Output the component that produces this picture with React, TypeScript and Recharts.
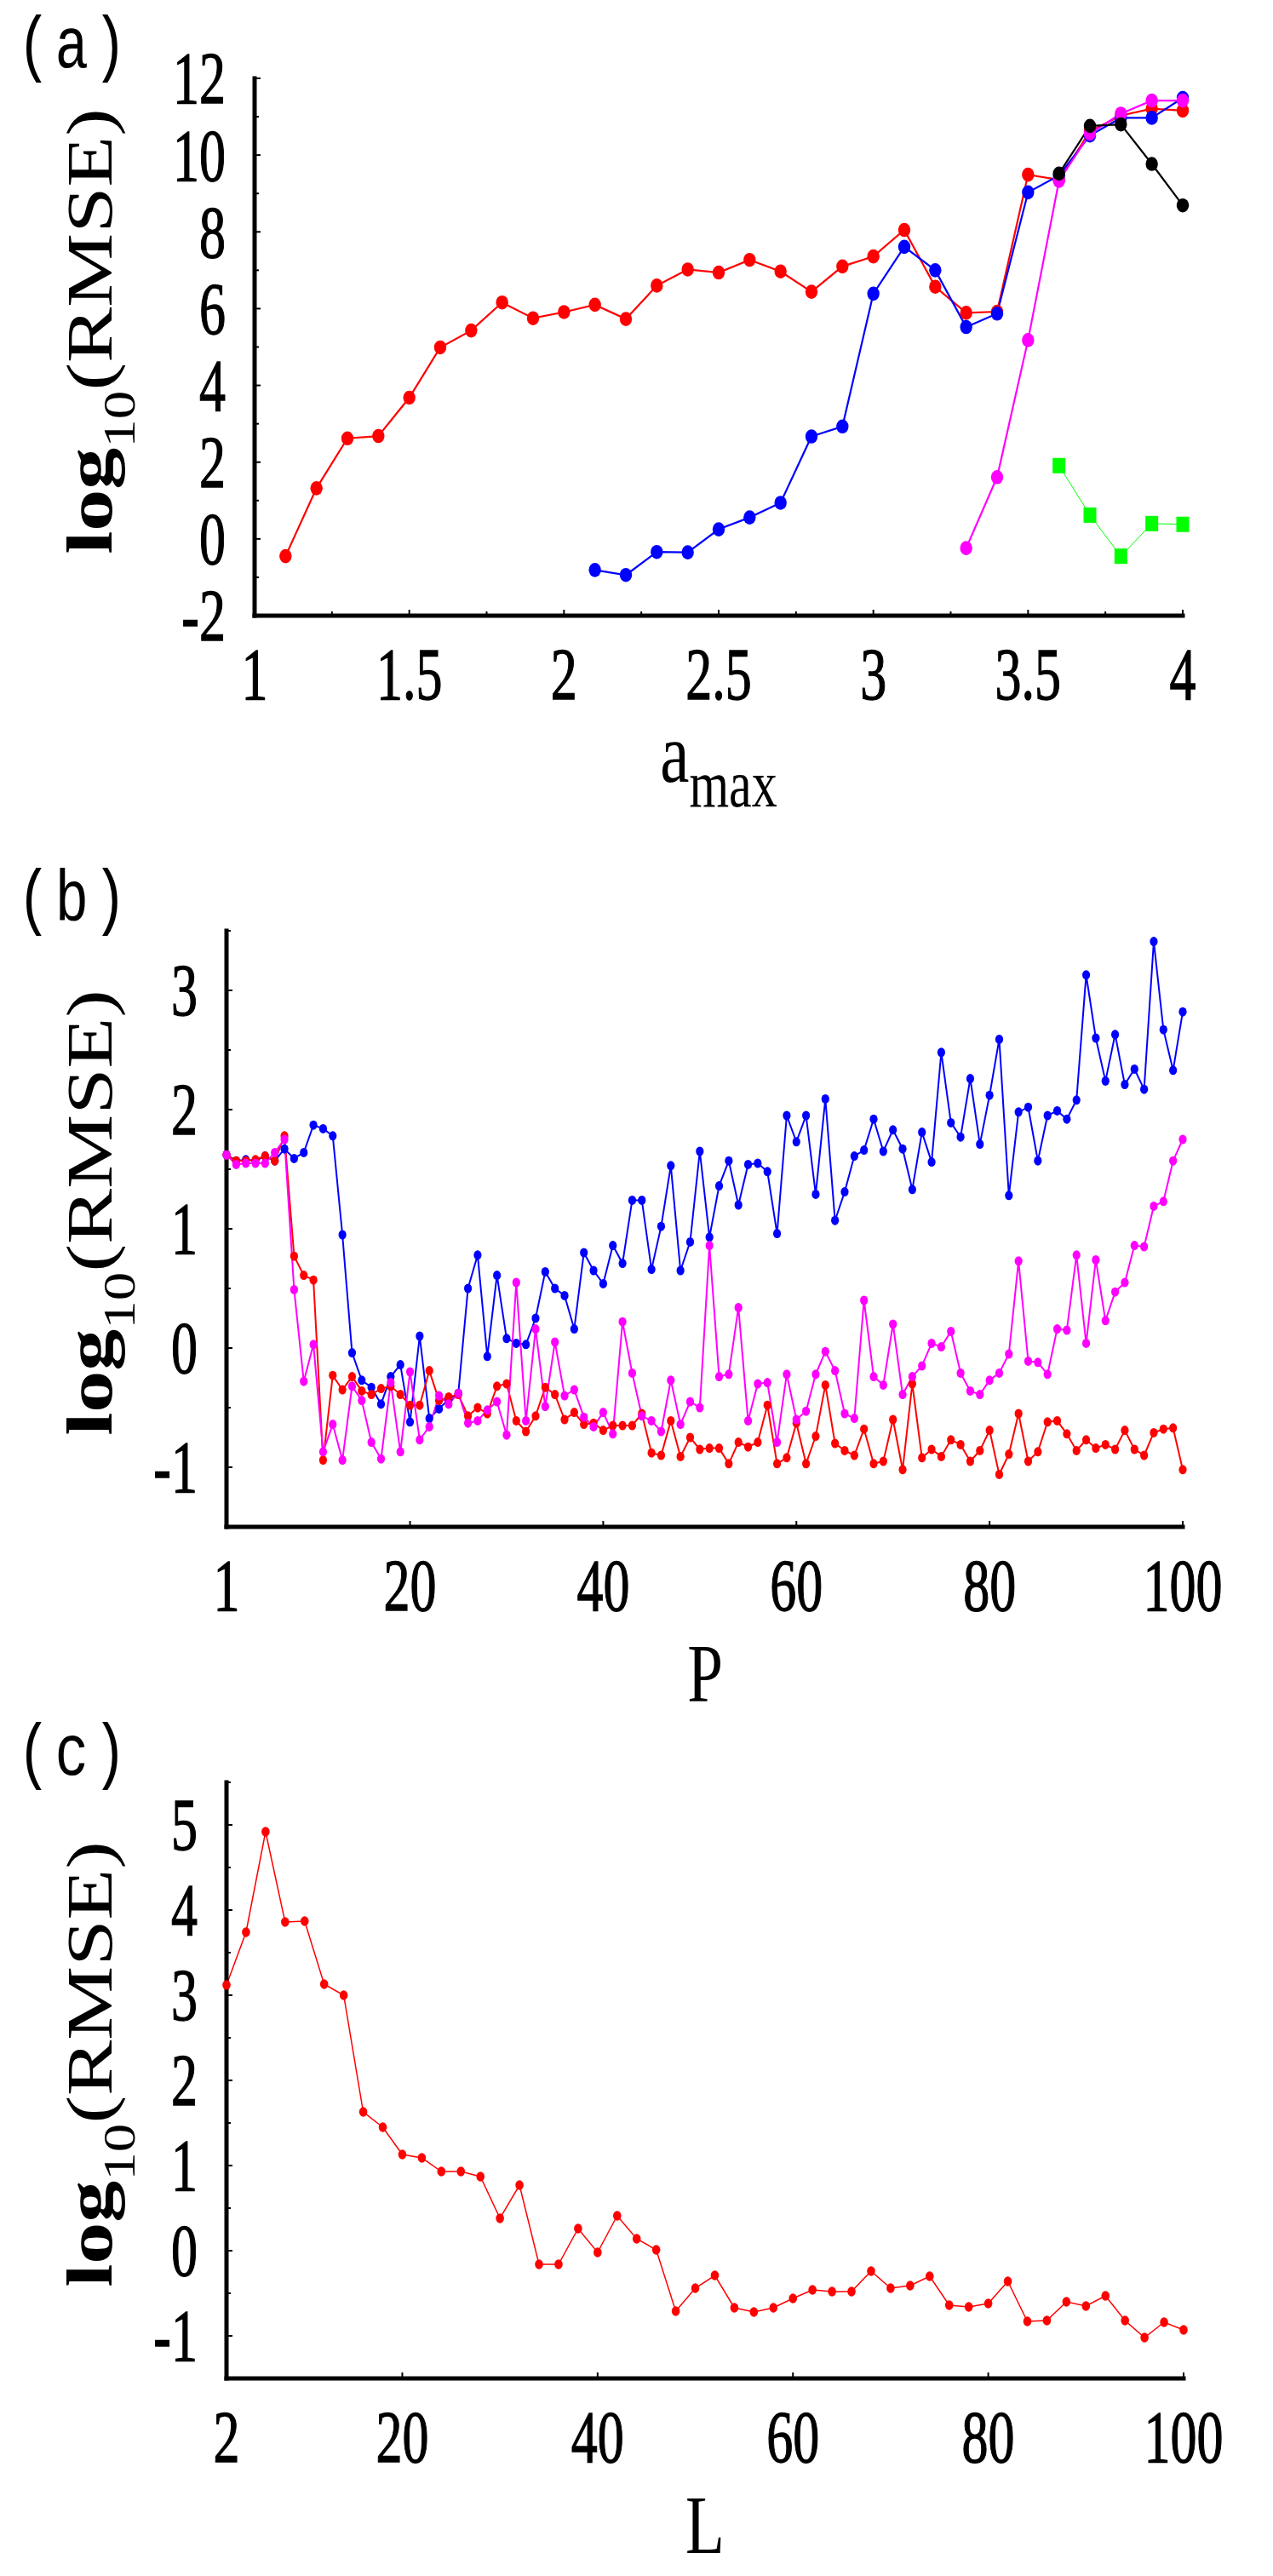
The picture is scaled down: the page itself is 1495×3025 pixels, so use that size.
import { LineChart, Line, XAxis, YAxis } from "recharts";

const SERIF = "'Liberation Serif', 'Times New Roman', serif";
const MONO = "'Liberation Mono', 'Courier New', monospace";
// lettering in the figure is tall and narrow, so text is stretched vertically
const STRETCH = 1.4;

// ---- (a) log10(RMSE) vs a_max ----
const aMax = [
	1.1, 1.2, 1.3, 1.4, 1.5, 1.6, 1.7, 1.8, 1.9, 2.0, 2.1, 2.2, 2.3, 2.4, 2.5,
	2.6, 2.7, 2.8, 2.9, 3.0, 3.1, 3.2, 3.3, 3.4, 3.5, 3.6, 3.7, 3.8, 3.9, 4.0,
];
const redA = [
	-0.45, 1.32, 2.62, 2.68, 3.68, 4.99, 5.43, 6.16, 5.75, 5.91, 6.1, 5.73, 6.6,
	7.02, 6.94, 7.27, 6.97, 6.44, 7.1, 7.36, 8.05, 6.57, 5.89, 5.92, 9.49, 9.36,
	10.62, 11.03, 11.21, 11.16,
];
// the following series start later and all end at a_max = 4
const blueA = [
	-0.81, -0.94, -0.34, -0.35, 0.25, 0.56, 0.94, 2.67, 2.93, 6.39, 7.61, 7.0,
	5.52, 5.87, 9.03, 9.47, 10.51, 10.97, 10.97, 11.49,
];
const magentaA = [-0.24, 1.61, 5.18, 9.33, 10.56, 11.08, 11.42, 11.42];
const blackA = [9.52, 10.76, 10.8, 9.77, 8.69];
const greenA = [1.91, 0.62, -0.45, 0.4, 0.38];
const aXTicks = [1, 1.25, 1.5, 1.75, 2, 2.25, 2.5, 2.75, 3, 3.25, 3.5, 3.75, 4];
const aXLabels = [1, 1.5, 2, 2.5, 3, 3.5, 4];
const aYTicks = [-2, -1, 0, 1, 2, 3, 4, 5, 6, 7, 8, 9, 10, 11, 12];
const aYLabels = [-2, 0, 2, 4, 6, 8, 10, 12];

// ---- (b) log10(RMSE) vs P ----
const pValues = Array.from({ length: 100 }, (_, i) => i + 1);
const blueB = [
	1.62, 1.57, 1.58, 1.57, 1.61, 1.57, 1.67, 1.59, 1.64, 1.87, 1.84, 1.78, 0.95,
	-0.04, -0.27, -0.33, -0.47, -0.24, -0.14, -0.62, 0.1, -0.59, -0.51, -0.43,
	-0.38, 0.5, 0.78, -0.07, 0.61, 0.08, 0.04, 0.03, 0.25, 0.64, 0.5, 0.44, 0.16,
	0.8, 0.65, 0.54, 0.86, 0.71, 1.24, 1.24, 0.66, 1.02, 1.53, 0.65, 0.89, 1.65,
	0.93, 1.36, 1.57, 1.2, 1.54, 1.55, 1.48, 0.96, 1.95, 1.73, 1.95, 1.29, 2.09,
	1.07, 1.31, 1.61, 1.66, 1.92, 1.65, 1.83, 1.67, 1.33, 1.81, 1.56, 2.48, 1.89,
	1.77, 2.26, 1.71, 2.12, 2.59, 1.28, 1.98, 2.02, 1.57, 1.95, 1.99, 1.92, 2.08,
	3.13, 2.6, 2.24, 2.63, 2.21, 2.34, 2.17, 3.41, 2.67, 2.33, 2.82,
];
const redB = [
	1.62, 1.57, 1.57, 1.58, 1.61, 1.57, 1.78, 0.77, 0.61, 0.57, -0.94, -0.23,
	-0.35, -0.24, -0.36, -0.39, -0.34, -0.32, -0.39, -0.48, -0.48, -0.19, -0.44,
	-0.41, -0.39, -0.57, -0.5, -0.55, -0.32, -0.3, -0.61, -0.7, -0.57, -0.33,
	-0.39, -0.6, -0.54, -0.64, -0.63, -0.69, -0.65, -0.65, -0.65, -0.55, -0.88,
	-0.9, -0.61, -0.91, -0.75, -0.85, -0.84, -0.84, -0.97, -0.79, -0.83, -0.79,
	-0.48, -0.97, -0.92, -0.63, -0.97, -0.74, -0.31, -0.8, -0.86, -0.9, -0.68,
	-0.97, -0.95, -0.6, -1.02, -0.3, -0.92, -0.85, -0.91, -0.77, -0.81, -0.95,
	-0.86, -0.69, -1.06, -0.89, -0.55, -0.95, -0.87, -0.62, -0.61, -0.72, -0.86,
	-0.77, -0.84, -0.81, -0.85, -0.69, -0.85, -0.9, -0.71, -0.68, -0.67, -1.02,
];
const magentaB = [
	1.62, 1.54, 1.55, 1.55, 1.55, 1.64, 1.75, 0.49, -0.28, 0.03, -0.87, -0.64,
	-0.94, -0.32, -0.44, -0.79, -0.93, -0.29, -0.87, -0.2, -0.77, -0.66, -0.4,
	-0.47, -0.38, -0.63, -0.61, -0.52, -0.45, -0.73, 0.55, -0.61, 0.16, -0.49,
	0.05, -0.4, -0.35, -0.58, -0.66, -0.54, -0.72, 0.22, -0.21, -0.57, -0.61,
	-0.7, -0.27, -0.64, -0.45, -0.5, 0.86, -0.24, -0.22, 0.34, -0.61, -0.3, -0.29,
	-0.79, -0.22, -0.6, -0.53, -0.22, -0.03, -0.19, -0.55, -0.59, 0.4, -0.24,
	-0.31, 0.2, -0.39, -0.24, -0.15, 0.04, 0.01, 0.14, -0.21, -0.36, -0.39, -0.27,
	-0.21, -0.05, 0.73, -0.11, -0.12, -0.22, 0.16, 0.15, 0.78, 0.04, 0.74, 0.23,
	0.47, 0.55, 0.86, 0.85, 1.19, 1.23, 1.57, 1.75,
];
const pXTicks = [1, 20, 40, 60, 80, 100];
const bYTicks = [-1.5, -1, -0.5, 0, 0.5, 1, 1.5, 2, 2.5, 3, 3.5];
const bYLabels = [-1, 0, 1, 2, 3];

// ---- (c) log10(RMSE) vs L ----
const lValues = [
	2, 4, 6, 8, 10, 12, 14, 16, 18, 20, 22, 24, 26, 28, 30, 32, 34, 36, 38, 40,
	42, 44, 46, 48, 50, 52, 54, 56, 58, 60, 62, 64, 66, 68, 70, 72, 74, 76, 78,
	80, 82, 84, 86, 88, 90, 92, 94, 96, 98, 100,
];
const redC = [
	3.12, 3.74, 4.92, 3.86, 3.87, 3.13, 3.0, 1.63, 1.45, 1.13, 1.09, 0.93, 0.93,
	0.87, 0.38, 0.77, -0.16, -0.16, 0.26, -0.02, 0.41, 0.14, 0.01, -0.71, -0.44,
	-0.29, -0.67, -0.72, -0.67, -0.56, -0.46, -0.48, -0.48, -0.24, -0.44, -0.41,
	-0.3, -0.64, -0.66, -0.62, -0.36, -0.83, -0.82, -0.6, -0.65, -0.53, -0.82,
	-1.02, -0.84, -0.93,
];
const lXTicks = [2, 20, 40, 60, 80, 100];
const cYTicks = [
	-1.5, -1, -0.5, 0, 0.5, 1, 1.5, 2, 2.5, 3, 3.5, 4, 4.5, 5, 5.5,
];
const cYLabels = [-1, 0, 1, 2, 3, 4, 5];

// tail series are aligned to the end of a_max
const tail = (arr: number[], i: number) => {
	const start = aMax.length - arr.length;
	return i >= start ? arr[i - start] : null;
};
const rowsA = aMax.map((a, i) => ({
	a,
	red: redA[i],
	blue: tail(blueA, i),
	magenta: tail(magentaA, i),
	black: tail(blackA, i),
	green: tail(greenA, i),
}));
const rowsB = pValues.map((p, i) => ({
	p,
	red: redB[i],
	blue: blueB[i],
	magenta: magentaB[i],
}));
const rowsC = lValues.map((l, i) => ({ l, red: redC[i] }));

const isIn = (v: number, list: number[]) =>
	list.some((t) => Math.abs(t - v) < 1e-9);

const MAJOR = 7;
const MINOR = 5;
const DIGITS = 62;

const tickText = (v: number, tx: number, ty: number, anchor: string, dy: number) => (
	<text
		transform={`translate(${tx},${ty}) scale(1,${STRETCH})`}
		y={dy}
		textAnchor={anchor}
		fontSize={DIGITS}
		fontFamily={SERIF}
		fill="#000"
		stroke="#000"
		strokeWidth={0.9}
	>
		{String(v)}
	</text>
);

const bottomTick = (labels: number[]) => (p: any) => {
	const v = p.payload.value;
	const major = isIn(v, labels);
	return (
		<g>
			<line x1={p.x} x2={p.x} y1={p.y} y2={p.y - (major ? MAJOR : MINOR)} stroke="#000" strokeWidth={2} />
			{major && tickText(v, p.x, p.y + 39, "middle", 42)}
		</g>
	);
};
const topTick = (labels: number[]) => (p: any) => {
	const major = isIn(p.payload.value, labels);
	return (
		<line x1={p.x} x2={p.x} y1={p.y} y2={p.y + (major ? MAJOR : MINOR)} stroke="#000" strokeWidth={2} />
	);
};
const leftTick = (labels: number[]) => (p: any) => {
	const v = p.payload.value;
	const major = isIn(v, labels);
	return (
		<g>
			<line x1={p.x} x2={p.x + (major ? MAJOR : MINOR)} y1={p.y} y2={p.y} stroke="#000" strokeWidth={2} />
			{major && tickText(v, p.x - 34, p.y, "end", 21)}
		</g>
	);
};
const rightTick = (labels: number[]) => (p: any) => {
	const major = isIn(p.payload.value, labels);
	return (
		<line x1={p.x} x2={p.x - (major ? MAJOR : MINOR)} y1={p.y} y2={p.y} stroke="#000" strokeWidth={2} />
	);
};

const frame = { stroke: "#000", strokeWidth: 5, strokeLinecap: "square" as const };

// y title + panel tag, drawn in chart coordinates
const yTitle = (cy: number, tag: string, tagY: number) => () => (
	<g>
		<text
			transform={`translate(20,${tagY}) scale(1,1.3)`}
			fontSize={66}
			letterSpacing={5}
			fontFamily={MONO}
			fill="#000"
		>
			{tag}
		</text>
		<text
			transform={`translate(131,${cy}) rotate(-90) scale(1.27,1)`}
			textAnchor="middle"
			fontFamily={SERIF}
			fill="#000"
		>
			<tspan fontSize={77} fontWeight="bold">log</tspan>
			<tspan fontSize={53} dy={27}>10</tspan>
			<tspan fontSize={77} dy={-27}>(RMSE)</tspan>
		</text>
	</g>
);

const xTitle = (cx: number, by: number, main: string, sub?: string) => () => (
	<text
		transform={`translate(${cx},${by}) scale(1,1.3)`}
		textAnchor="middle"
		fontFamily={SERIF}
		fill="#000"
	>
		<tspan fontSize={sub ? 77 : 75}>{main}</tspan>
		{sub && (
			<tspan fontSize={60} dy={22}>
				{sub}
			</tspan>
		)}
	</text>
);

type AxesCfg = {
	xKey: string;
	xDomain: [number, number];
	xTicks: number[];
	xLabels: number[];
	xHeight: number;
	yDomain: [number, number];
	yTicks: number[];
	yLabels: number[];
	yWidth: number;
	xLabel: () => JSX.Element;
	yLabel: () => JSX.Element;
};

const frameAxes = (c: AxesCfg) => [
	<XAxis
		key="xb"
		xAxisId="b"
		dataKey={c.xKey}
		type="number"
		domain={c.xDomain}
		ticks={c.xTicks}
		interval={0}
		height={c.xHeight}
		tickSize={0}
		tickMargin={0}
		tickLine={false}
		axisLine={frame}
		tick={bottomTick(c.xLabels)}
		label={{ content: c.xLabel }}
	/>,
	<XAxis
		key="xt"
		xAxisId="t"
		orientation="top"
		dataKey={c.xKey}
		type="number"
		domain={c.xDomain}
		ticks={c.xTicks}
		interval={0}
		height={0}
		tickSize={0}
		tickMargin={0}
		tickLine={false}
		axisLine={frame}
		allowDataOverflow
		tick={topTick(c.xLabels)}
	/>,
	<YAxis
		key="yl"
		yAxisId="l"
		type="number"
		domain={c.yDomain}
		ticks={c.yTicks}
		interval={0}
		width={c.yWidth}
		tickSize={0}
		tickMargin={0}
		tickLine={false}
		axisLine={frame}
		tick={leftTick(c.yLabels)}
		label={{ content: c.yLabel }}
	/>,
	<YAxis
		key="yr"
		yAxisId="r"
		orientation="right"
		type="number"
		domain={c.yDomain}
		ticks={c.yTicks}
		interval={0}
		width={0}
		tickSize={0}
		tickMargin={0}
		tickLine={false}
		axisLine={frame}
		allowDataOverflow
		tick={rightTick(c.yLabels)}
	/>,
];

const ellipseDot = (color: string, rx: number, ry: number) => (p: any) => {
	if (!Number.isFinite(p.cx) || !Number.isFinite(p.cy))
		return <g key={`d-${p.index}`} />;
	return <ellipse key={`d-${p.index}`} cx={p.cx} cy={p.cy} rx={rx} ry={ry} fill={color} />;
};
const squareDot = (color: string) => (p: any) => {
	if (!Number.isFinite(p.cx) || !Number.isFinite(p.cy))
		return <g key={`s-${p.index}`} />;
	return <rect key={`s-${p.index}`} x={p.cx - 7.5} y={p.cy - 9} width={15} height={18} fill={color} />;
};

const series = (key: string, color: string, width: number, dot: any) => (
	<Line
		key={key}
		xAxisId="b"
		yAxisId="l"
		type="linear"
		dataKey={key}
		stroke={color}
		strokeWidth={width}
		dot={dot}
		activeDot={false}
		connectNulls={false}
		isAnimationActive={false}
	/>
);

const App = () => {
	return (
		<div
			style={{
				position: "absolute",
				left: 0,
				top: 0,
				width: 1495,
				height: 3025,
				background: "#fff",
			}}
		>
			<div style={{ position: "absolute", left: 0, top: 0 }}>
				<LineChart
					width={1495}
					height={1000}
					data={rowsA}
					margin={{ top: 92, right: 106, left: 0, bottom: 0 }}
				>
					{frameAxes({
						xKey: "a",
						xDomain: [1, 4],
						xTicks: aXTicks,
						xLabels: aXLabels,
						xHeight: 277,
						yDomain: [-2, 12],
						yTicks: aYTicks,
						yLabels: aYLabels,
						yWidth: 299,
						xLabel: xTitle(844, 918, "a", "max"),
						yLabel: yTitle(389, "(a)", 79),
					})}
					{series("red", "#ff0000", 2.2, ellipseDot("#ff0000", 7.2, 8.3))}
					{series("blue", "#0000ff", 2.2, ellipseDot("#0000ff", 7.2, 8.3))}
					{series("magenta", "#ff00ff", 2.2, ellipseDot("#ff00ff", 7.2, 8.3))}
					{series("black", "#000000", 2.2, ellipseDot("#000000", 7.2, 8.3))}
					{series("green", "#00ff00", 1, squareDot("#00ff00"))}
				</LineChart>
			</div>

			<div style={{ position: "absolute", left: 0, top: 1000 }}>
				<LineChart
					width={1495}
					height={1030}
					data={rowsB}
					margin={{ top: 93, right: 106, left: 0, bottom: 0 }}
				>
					{frameAxes({
						xKey: "p",
						xDomain: [1, 100],
						xTicks: pXTicks,
						xLabels: pXTicks,
						xHeight: 237,
						yDomain: [-1.5, 3.5],
						yTicks: bYTicks,
						yLabels: bYLabels,
						yWidth: 266,
						xLabel: xTitle(828, 998, "P"),
						yLabel: yTitle(424, "(b)", 81),
					})}
					{series("blue", "#0000ff", 2, ellipseDot("#0000ff", 4.6, 5.5))}
					{series("red", "#ff0000", 2, ellipseDot("#ff0000", 4.6, 5.5))}
					{series("magenta", "#ff00ff", 2, ellipseDot("#ff00ff", 4.6, 5.5))}
				</LineChart>
			</div>

			<div style={{ position: "absolute", left: 0, top: 2000 }}>
				<LineChart
					width={1495}
					height={1025}
					data={rowsC}
					margin={{ top: 93, right: 105, left: 0, bottom: 0 }}
				>
					{frameAxes({
						xKey: "l",
						xDomain: [2, 100],
						xTicks: lXTicks,
						xLabels: lXTicks,
						xHeight: 232,
						yDomain: [-1.5, 5.5],
						yTicks: cYTicks,
						yLabels: cYLabels,
						yWidth: 266,
						xLabel: xTitle(828, 998, "L"),
						yLabel: yTitle(424, "(c)", 84),
					})}
					{series("red", "#ff0000", 1.5, ellipseDot("#ff0000", 4.8, 5.8))}
				</LineChart>
			</div>
		</div>
	);
};

export default App;
